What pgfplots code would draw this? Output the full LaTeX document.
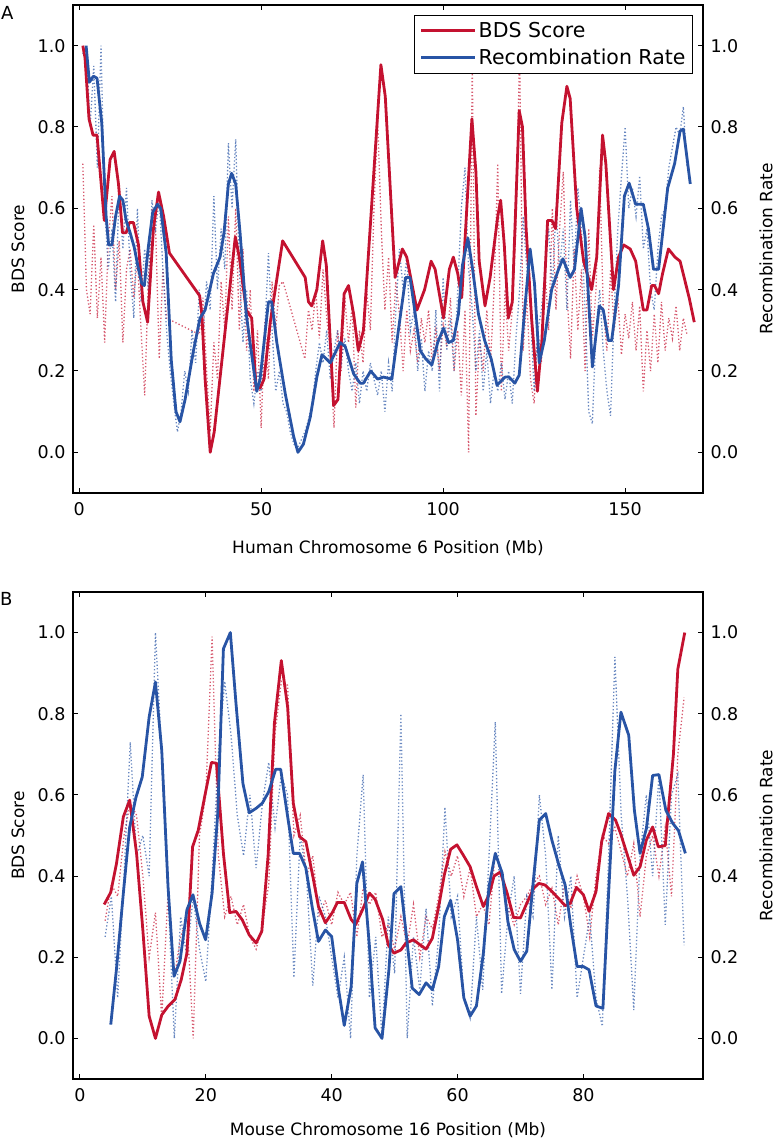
\documentclass[border=0pt]{standalone}
\usepackage{fontspec}
\setmainfont{DejaVu Sans}
\usepackage{pgfplots}
\pgfplotsset{compat=1.18}
\definecolor{bdsred}{RGB}{196,18,48}
\definecolor{recblue}{RGB}{40,84,165}
\pgfplotsset{
  mystyle/.style={
    scale only axis, width=630pt,
    ymin=-0.1, ymax=1.1,
    ytick={0,0.2,0.4,0.6,0.8,1.0},
    y tick label style={/pgf/number format/.cd, fixed, fixed zerofill, precision=1, /tikz/.cd},
    /pgf/number format/assume math mode=true,
    tick align=inside, major tick length=5pt,
    tick style={black, line width=1pt},
    axis line style={line width=1.3pt},
    tick label style={font=\fontsize{17.5}{20}\selectfont},
    label style={font=\fontsize{17}{20}\selectfont},
    yticklabel shift=4pt, xticklabel shift=6pt,
    clip=true,
  },
  dotr/.style={bdsred, opacity=0.7, line width=1.3pt, dash pattern=on 1.3pt off 2.2pt, forget plot},
  dotb/.style={recblue, opacity=0.7, line width=1.3pt, dash pattern=on 1.3pt off 2.2pt, forget plot},
  solr/.style={bdsred, line width=2.8pt, line join=round},
  solb/.style={recblue, line width=2.8pt, line join=round},
}
\begin{document}
\begin{tikzpicture}
\useasboundingbox (0,0) rectangle (775pt,1140pt);
\node[anchor=north west, inner sep=0pt, font=\fontsize{18}{20}\selectfont] at (1pt,1134pt) {A};
\node[anchor=north west, inner sep=0pt, font=\fontsize{18}{20}\selectfont] at (0pt,548pt) {B};

% ---------------- Panel A ----------------
\begin{axis}[mystyle, at={(73pt,647pt)}, anchor=south west, height=488pt,
  xmin=-1.7, xmax=171.4, xtick={0,50,100,150},
  xlabel={Human Chromosome 6 Position (Mb)}, ylabel={BDS Score},
  xlabel style={at={(axis description cs:0.5,-0.1127)}, anchor=center},
  ylabel style={at={(axis description cs:-0.0873,0.5)}, anchor=center},
  legend style={at={(axis description cs:0.9841,0.9795)}, anchor=north east,
    draw=black, line width=1pt, fill=white, font=\fontsize{20.5}{23}\selectfont,
    inner xsep=5pt, inner ysep=5pt, row sep=6pt, cells={anchor=west}},
  legend image code/.code={\path (-8pt,0pt) -- (46pt,0pt); \draw[#1, line width=2.8pt] (0pt,0pt) -- (31pt,0pt);},
]
\addplot[dotr] coordinates {(1,0.71)(2,0.40)(3,0.34)(4,0.56)(5,0.33)(6,0.48)(7,0.27)(8,0.52)(9,0.63)(10,0.40)(11,0.52)(12,0.27)(13,0.45)(14,0.50)(15,0.38)(16,0.48)(17,0.30)(18,0.14)(19,0.42)(20,0.60)(21,0.55)(22,0.23)(23,0.45)(24,0.33)(33,0.29)(34,0.38)(35,0.20)(36,0.05)(37,0.27)(38,0.18)(39,0.42)(40,0.30)(41,0.58)(42,0.35)(43,0.60)(44,0.30)(45,0.50)(46,0.25)(47,0.40)(48,0.15)(49,0.30)(50,0.06)(51,0.32)(52,0.18)(53,0.42)(54,0.30)(55,0.41)(56,0.42)(62,0.23)(63,0.35)(64,0.30)(65,0.40)(66,0.28)(67,0.45)(68,0.33)(69,0.25)(70,0.06)(71,0.30)(72,0.20)(73,0.38)(74,0.27)(75,0.36)(76,0.11)(77,0.30)(78,0.22)(79,0.40)(80,0.30)(81,0.60)(82,0.82)(83,0.55)(84,0.35)(85,0.48)(86,0.27)(87,0.42)(88,0.34)(89,0.20)(90,0.35)(91,0.25)(92,0.30)(93,0.22)(94,0.33)(95,0.27)(96,0.35)(97,0.22)(98,0.30)(99,0.20)(100,0.32)(101,0.26)(102,0.38)(103,0.20)(104,0.30)(105,0.14)(106,0.35)(107,0.0)(108,0.95)(109,0.09)(110,0.28)(111,0.20)(112,0.35)(113,0.22)(114,0.40)(115,0.71)(116,0.15)(117,0.40)(118,0.25)(119,0.35)(120,0.55)(121,0.98)(122,0.25)(123,0.38)(124,0.18)(125,0.12)(126,0.30)(127,0.22)(128,0.45)(129,0.30)(130,0.60)(131,0.35)(132,0.55)(133,0.69)(134,0.40)(135,0.23)(136,0.50)(137,0.30)(138,0.45)(139,0.20)(140,0.55)(141,0.28)(142,0.40)(143,0.70)(144,0.35)(145,0.25)(146,0.45)(147,0.30)(148,0.38)(149,0.24)(150,0.34)(151,0.28)(152,0.37)(153,0.25)(154,0.36)(155,0.15)(156,0.30)(157,0.20)(158,0.34)(159,0.22)(160,0.37)(161,0.25)(162,0.33)(163,0.28)(164,0.36)(165,0.25)(166,0.33)(167,0.29)};
\addplot[dotb] coordinates {(1,0.98)(2,1.0)(3,0.80)(4,0.95)(5,0.70)(6,1.0)(7,0.60)(8,0.45)(9,0.55)(10,0.37)(11,0.65)(12,0.50)(13,0.65)(14,0.45)(15,0.33)(16,0.60)(17,0.37)(18,0.50)(19,0.40)(20,0.62)(21,0.55)(22,0.62)(23,0.45)(24,0.30)(25,0.20)(26,0.12)(27,0.05)(28,0.10)(29,0.20)(30,0.15)(31,0.30)(32,0.22)(33,0.40)(34,0.28)(35,0.42)(36,0.35)(37,0.63)(38,0.40)(39,0.55)(40,0.45)(41,0.76)(42,0.60)(43,0.77)(44,0.45)(45,0.27)(46,0.40)(47,0.18)(48,0.12)(49,0.20)(50,0.15)(51,0.30)(52,0.49)(53,0.30)(54,0.15)(55,0.20)(56,0.12)(57,0.10)(58,0.05)(59,0.02)(60,0.01)(61,0.03)(62,0.05)(63,0.08)(64,0.12)(65,0.20)(66,0.27)(67,0.22)(68,0.30)(69,0.18)(70,0.25)(71,0.30)(72,0.22)(73,0.28)(74,0.20)(75,0.15)(76,0.22)(77,0.12)(78,0.20)(79,0.15)(80,0.22)(81,0.18)(82,0.14)(83,0.20)(84,0.10)(85,0.22)(86,0.15)(87,0.35)(88,0.50)(89,0.40)(90,0.48)(91,0.30)(92,0.35)(93,0.20)(94,0.28)(95,0.15)(96,0.25)(97,0.20)(98,0.35)(99,0.15)(100,0.43)(101,0.25)(102,0.33)(103,0.20)(104,0.40)(105,0.60)(106,0.70)(107,0.45)(108,0.35)(109,0.20)(110,0.30)(111,0.15)(112,0.25)(113,0.12)(114,0.20)(115,0.15)(116,0.22)(117,0.13)(118,0.20)(119,0.12)(120,0.28)(121,0.40)(122,0.58)(123,0.45)(124,0.35)(125,0.15)(126,0.30)(127,0.35)(128,0.45)(129,0.55)(130,0.40)(131,0.60)(132,0.45)(133,0.55)(134,0.35)(135,0.62)(136,0.45)(137,0.65)(138,0.55)(139,0.35)(140,0.10)(141,0.07)(142,0.30)(143,0.40)(144,0.25)(145,0.15)(146,0.09)(147,0.35)(148,0.55)(149,0.68)(150,0.80)(151,0.60)(152,0.65)(153,0.58)(154,0.68)(155,0.50)(156,0.55)(157,0.40)(158,0.35)(159,0.50)(160,0.58)(161,0.60)(162,0.70)(163,0.75)(164,0.80)(165,0.78)(166,0.85)(167,0.70)};
\addplot[solr] coordinates {(1,1.0)(1.6,0.97)(2.7,0.82)(3.8,0.78)(4.9,0.78)(6.9,0.57)(8.5,0.72)(9.6,0.74)(10.8,0.66)(11.9,0.54)(12.9,0.54)(13.8,0.565)(14.9,0.565)(16.3,0.51)(17.5,0.37)(18.8,0.32)(20.4,0.55)(21.8,0.64)(23.2,0.58)(24.8,0.49)(33.1,0.385)(33.7,0.34)(34.6,0.18)(36,0.0)(37.1,0.05)(38.3,0.15)(42.9,0.53)(44,0.48)(45.9,0.35)(47.4,0.33)(48.6,0.16)(49.7,0.158)(50.8,0.18)(52.5,0.32)(55.9,0.52)(62.1,0.43)(63,0.37)(63.9,0.36)(65.3,0.40)(66.9,0.52)(67.9,0.46)(69.9,0.115)(71.1,0.13)(72.8,0.39)(74,0.41)(75.4,0.34)(76.7,0.25)(78.1,0.30)(82.9,0.953)(84.1,0.875)(86.8,0.43)(88.8,0.50)(90,0.48)(92.8,0.35)(94.9,0.40)(96.7,0.47)(97.8,0.45)(100.1,0.33)(101.7,0.45)(102.8,0.48)(104,0.44)(105.1,0.38)(107.9,0.82)(109,0.69)(109.9,0.47)(111.5,0.36)(112.9,0.43)(115,0.58)(115.8,0.62)(116.8,0.51)(117.9,0.33)(119,0.37)(120.9,0.84)(121.8,0.80)(122.8,0.55)(124.3,0.33)(125.9,0.15)(127.1,0.27)(128.7,0.57)(129.9,0.57)(130.9,0.55)(132.6,0.81)(134,0.90)(134.9,0.87)(136.7,0.60)(138.6,0.47)(140.8,0.40)(142.2,0.48)(143.8,0.78)(144.7,0.71)(146.8,0.40)(148.2,0.48)(149.6,0.51)(151.4,0.50)(152.9,0.47)(155,0.35)(156,0.35)(157.3,0.41)(158.1,0.41)(159.2,0.39)(160.3,0.44)(161.9,0.50)(163.7,0.48)(165.1,0.47)(167.6,0.38)(169,0.32)};
\addlegendentry{BDS Score}
\addplot[solb] coordinates {(1.9,1.0)(2.8,0.91)(3.9,0.925)(4.9,0.92)(6.2,0.81)(7.4,0.58)(8.1,0.51)(9,0.51)(10,0.58)(11.1,0.63)(12,0.62)(12.9,0.57)(14,0.54)(15.1,0.505)(16.3,0.45)(17.2,0.415)(17.9,0.41)(19,0.505)(20.2,0.59)(21.5,0.61)(22.4,0.60)(23.9,0.49)(25.3,0.227)(26.6,0.10)(27.7,0.075)(29.1,0.13)(31.4,0.25)(33.2,0.33)(34.6,0.35)(36.9,0.44)(38.7,0.48)(39.8,0.54)(41,0.66)(41.9,0.686)(43,0.66)(44.2,0.54)(45.9,0.34)(47.7,0.22)(48.8,0.15)(49.7,0.18)(52,0.37)(52.9,0.37)(54.3,0.27)(56.6,0.145)(58.9,0.04)(60.1,0.0)(61.6,0.02)(63.5,0.087)(65.3,0.185)(66.7,0.24)(69,0.22)(71.7,0.27)(73.1,0.26)(75.4,0.193)(77.2,0.17)(78.1,0.17)(80.1,0.20)(82,0.18)(83.6,0.185)(85.9,0.18)(87.7,0.30)(89.7,0.43)(90.9,0.43)(92.5,0.33)(93.7,0.25)(95.2,0.23)(96.9,0.215)(98.5,0.27)(100.1,0.305)(101.5,0.27)(102.8,0.275)(104.2,0.34)(105.3,0.46)(106.8,0.527)(108.1,0.45)(109.7,0.34)(111.4,0.275)(113.2,0.23)(114.8,0.165)(117,0.185)(118.1,0.185)(119.7,0.17)(120.9,0.19)(122.3,0.34)(123.9,0.50)(125.1,0.415)(126.4,0.22)(127.8,0.275)(129.8,0.40)(131.7,0.45)(132.9,0.476)(134.9,0.43)(136.1,0.45)(137.9,0.60)(139,0.53)(141,0.21)(142.9,0.36)(144,0.35)(145.4,0.275)(146.3,0.275)(148.2,0.41)(149.8,0.63)(151.1,0.662)(152.9,0.61)(155,0.61)(156.4,0.55)(157.8,0.45)(159.2,0.45)(161.7,0.65)(163.6,0.71)(165.1,0.79)(166,0.795)(167.9,0.66)};
\addlegendentry{Recombination Rate}
\end{axis}
\begin{axis}[mystyle, at={(73pt,647pt)}, anchor=south west, height=488pt,
  xmin=-1.7, xmax=171.4, hide x axis, axis y line*=right,
  ylabel={Recombination Rate},
  ylabel style={at={(axis description cs:1.1,0.5)}, anchor=center}]
\addplot[draw=none] coordinates {(0,0)};
\end{axis}

% ---------------- Panel B ----------------
\begin{axis}[mystyle, at={(73pt,61pt)}, anchor=south west, height=487pt,
  xmin=-1.1, xmax=99.0, xtick={0,20,40,60,80},
  xlabel={Mouse Chromosome 16 Position (Mb)}, ylabel={BDS Score},
  xlabel style={at={(axis description cs:0.5,-0.1047)}, anchor=center},
  ylabel style={at={(axis description cs:-0.0873,0.5)}, anchor=center},
]
\addplot[dotr] coordinates {(4,0.29)(5,0.38)(6,0.35)(7,0.50)(8,0.58)(9,0.55)(10,0.40)(11,0.20)(12,0.31)(13,0.05)(14,0.36)(15,0.15)(16,0.25)(17,0.30)(18,0.0)(19,0.50)(20,0.60)(21,0.99)(22,0.45)(23,0.30)(24,0.35)(25,0.28)(26,0.33)(27,0.25)(28,0.22)(29,0.28)(30,0.38)(31,0.75)(32,0.88)(33,0.87)(34,0.50)(35,0.55)(36,0.40)(37,0.45)(38,0.30)(39,0.34)(40,0.28)(41,0.36)(42,0.33)(43,0.36)(44,0.25)(45,0.37)(46,0.33)(47,0.36)(48,0.25)(49,0.28)(50,0.22)(51,0.30)(52,0.23)(53,0.33)(54,0.20)(55,0.30)(56,0.27)(57,0.35)(58,0.46)(59,0.40)(60,0.45)(61,0.35)(62,0.42)(63,0.30)(64,0.33)(65,0.28)(66,0.46)(67,0.40)(68,0.32)(69,0.28)(70,0.33)(71,0.35)(72,0.38)(73,0.40)(74,0.33)(75,0.37)(76,0.28)(77,0.38)(78,0.32)(79,0.40)(80,0.35)(81,0.25)(82,0.40)(83,0.50)(84,0.48)(85,0.52)(86,0.46)(87,0.40)(88,0.48)(89,0.30)(90,0.45)(91,0.50)(92,0.40)(93,0.52)(94,0.35)(95,0.70)(96,0.84)};
\addplot[dotb] coordinates {(4,0.25)(5,0.35)(6,0.10)(7,0.40)(8,0.73)(9,0.45)(10,0.50)(11,0.40)(12,1.0)(13,0.70)(14,0.35)(15,0.0)(16,0.30)(17,0.20)(18,0.35)(19,0.22)(20,0.14)(21,0.40)(22,0.70)(23,0.88)(24,0.75)(25,0.55)(26,0.45)(27,0.60)(28,0.42)(29,0.58)(30,0.68)(31,0.52)(32,0.65)(33,0.60)(34,0.15)(35,0.50)(36,0.40)(37,0.13)(38,0.35)(39,0.30)(40,0.20)(41,0.10)(42,0.20)(43,0.0)(44,0.45)(45,0.65)(46,0.10)(47,0.25)(48,0.0)(49,0.30)(50,0.16)(51,0.80)(52,0.0)(53,0.25)(54,0.12)(55,0.32)(56,0.08)(57,0.25)(58,0.57)(59,0.30)(60,0.35)(61,0.10)(62,0.05)(63,0.30)(64,0.12)(65,0.45)(66,0.78)(67,0.11)(68,0.30)(69,0.40)(70,0.11)(71,0.35)(72,0.30)(73,0.60)(74,0.45)(75,0.12)(76,0.50)(77,0.30)(78,0.40)(79,0.10)(80,0.20)(81,0.30)(82,0.10)(83,0.03)(84,0.45)(85,0.94)(86,0.55)(87,0.35)(88,0.07)(89,0.45)(90,0.60)(91,0.40)(92,0.65)(93,0.28)(94,0.60)(95,0.65)(96,0.23)};
\addplot[solr] coordinates {(3.85,0.33)(4.9,0.36)(5.8,0.43)(6.9,0.546)(7.9,0.587)(9,0.456)(10,0.267)(11,0.055)(12,0.0)(13,0.058)(14,0.079)(15.1,0.096)(16.1,0.145)(17,0.21)(17.9,0.472)(18.8,0.513)(19.8,0.594)(20.9,0.68)(21.7,0.678)(22.8,0.456)(23.8,0.31)(24.8,0.313)(25.8,0.292)(26.9,0.255)(28,0.235)(28.9,0.264)(29.9,0.45)(30.9,0.776)(32,0.931)(33,0.817)(33.9,0.58)(34.9,0.497)(35.9,0.485)(37,0.40)(37.9,0.325)(39,0.285)(40.1,0.31)(40.9,0.335)(42,0.335)(43.1,0.293)(43.8,0.28)(44.9,0.317)(46,0.358)(46.9,0.343)(48.1,0.293)(49,0.23)(49.9,0.21)(51,0.218)(51.8,0.235)(53,0.243)(54,0.231)(55,0.22)(56,0.247)(57,0.325)(57.9,0.403)(58.9,0.466)(59.9,0.477)(60.9,0.452)(62,0.423)(63,0.374)(64.1,0.325)(65,0.354)(65.8,0.40)(66.8,0.41)(67.9,0.357)(68.9,0.298)(70,0.297)(71,0.333)(72.1,0.37)(72.9,0.382)(73.9,0.378)(75,0.362)(76.1,0.344)(77.1,0.327)(77.9,0.333)(78.9,0.372)(80,0.354)(80.9,0.313)(82,0.362)(82.9,0.485)(84,0.554)(85.1,0.538)(85.9,0.505)(86.9,0.456)(88,0.402)(89,0.423)(90,0.489)(91,0.521)(91.9,0.472)(93,0.475)(94.3,0.70)(95,0.91)(96.1,1.0)};
\addplot[solb] coordinates {(4.9,0.034)(5.8,0.17)(6.9,0.358)(7.9,0.52)(8.9,0.594)(9.9,0.644)(11,0.792)(12,0.878)(13,0.71)(14,0.374)(14.95,0.153)(15.9,0.19)(17,0.317)(17.96,0.354)(19,0.284)(19.97,0.243)(21,0.358)(21.9,0.555)(22.8,0.96)(23.9,1.0)(24.8,0.825)(25.9,0.628)(26.9,0.556)(28,0.567)(29,0.58)(30,0.608)(31.1,0.663)(31.9,0.663)(33,0.547)(33.9,0.456)(34.9,0.456)(35.9,0.42)(36.9,0.324)(37.9,0.239)(39,0.267)(40,0.251)(41.1,0.12)(42,0.032)(43.1,0.128)(44,0.382)(44.9,0.435)(46,0.227)(46.9,0.026)(48,0.0)(49.1,0.17)(49.9,0.357)(51,0.374)(52.8,0.124)(53.9,0.108)(55,0.137)(56,0.12)(57,0.177)(57.9,0.30)(58.9,0.34)(60,0.243)(61,0.1)(62,0.055)(63,0.08)(64.1,0.21)(65,0.374)(66,0.456)(67.1,0.407)(68,0.288)(69,0.219)(70,0.19)(71,0.215)(72,0.382)(73,0.538)(74,0.554)(75,0.488)(76.1,0.427)(77.1,0.378)(78,0.276)(79,0.177)(80,0.177)(80.9,0.169)(82,0.08)(83.1,0.074)(84,0.357)(85,0.66)(85.96,0.804)(87.2,0.747)(88.1,0.562)(89,0.456)(90,0.517)(91,0.648)(92,0.65)(93.1,0.562)(94.2,0.53)(95.1,0.512)(96.2,0.456)};
\end{axis}
\begin{axis}[mystyle, at={(73pt,61pt)}, anchor=south west, height=487pt,
  xmin=-1.1, xmax=99.0, hide x axis, axis y line*=right,
  ylabel={Recombination Rate},
  ylabel style={at={(axis description cs:1.1,0.5)}, anchor=center}]
\addplot[draw=none] coordinates {(0,0)};
\end{axis}
\end{tikzpicture}
\end{document}
